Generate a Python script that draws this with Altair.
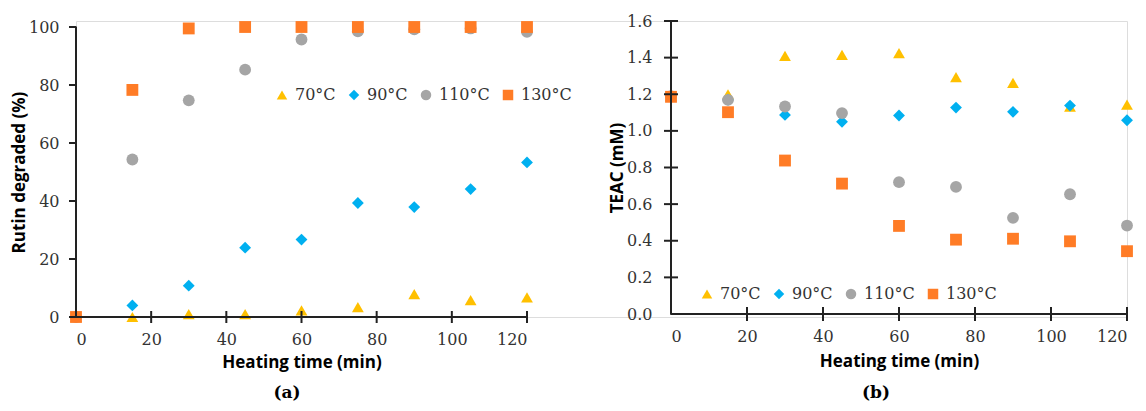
import altair as alt
import pandas as pd

times = [0, 15, 30, 45, 60, 75, 90, 105, 120]
series = ["70°C", "90°C", "110°C", "130°C"]
colors = ["#FFC000", "#00B0F0", "#A5A5A5", "#FF7C26"]
shapes = ["triangle-up", "diamond", "circle", "square"]

rutin_70 = [0, 0, 1.0, 1.0, 2.3, 3.4, 7.9, 5.8, 6.8]
rutin_90 = [0, 4.0, 10.8, 23.9, 26.7, 39.3, 37.9, 44.1, 53.3]
rutin_110 = [0, 54.3, 74.7, 85.3, 95.7, 98.5, 99.2, 99.5, 98.3]
rutin_130 = [0, 78.3, 99.5, 100, 100, 100, 100, 100, 100]

teac_70 = [1.19, 1.20, 1.41, 1.415, 1.425, 1.293, 1.262, 1.133, 1.144]
teac_90 = [1.19, 1.17, 1.087, 1.05, 1.084, 1.127, 1.104, 1.138, 1.058]
teac_110 = [1.19, 1.169, 1.133, 1.097, 0.72, 0.694, 0.525, 0.654, 0.483]
teac_130 = [1.186, 1.102, 0.838, 0.712, 0.481, 0.406, 0.411, 0.397, 0.343]

x_ticks = [20, 40, 60, 80, 100, 120]
x_values = [0, 20, 40, 60, 80, 100, 120]
rutin_ticks = [0, 20, 40, 60, 80, 100]
teac_ticks = [0.0, 0.2, 0.4, 0.6, 0.8, 1.0, 1.2, 1.4, 1.6]
captions = ["(a)", "(b)"]

LABEL_FONT = "DejaVu Serif"
TITLE_FONT = "Open Sans"
LINE = "#222222"
ONE = pd.DataFrame({"k": [0]})

# layout of the two panels inside one view (pixels)
W_A, H_A, TOP_A = 451, 296, 6
X0_B, W_B, H_B = 595, 456, 293
TOTAL_W = X0_B + W_B


def long_df(cols):
    rows = []
    for s, vals in zip(series, cols):
        for t, v in zip(times, vals):
            rows.append({"time": t, "val": v, "temp": s})
    return pd.DataFrame(rows)


df_a = long_df([rutin_70, rutin_90, rutin_110, rutin_130])
df_b = long_df([teac_70, teac_90, teac_110, teac_130])


def legend(x, y):
    return alt.Legend(
        orient="none", legendX=x, legendY=y, direction="horizontal", title=None,
        labelFont=LABEL_FONT, labelFontSize=16, labelColor="#333333",
        symbolSize=110, columnPadding=10, labelOffset=5,
    )


def ax(**kw):
    return alt.Axis(domain=False, ticks=False, grid=False, labelOverlap=False,
                    labelFont=LABEL_FONT, labelFontSize=16, labelColor="#333333",
                    titleFont=TITLE_FONT, titleFontSize=17, titleFontWeight="bold",
                    titleColor="black", **kw)


def tick(orient, size, **enc):
    return mark_base(orient, size).encode(**enc)


def mark_base(orient, size, data=ONE):
    return alt.Chart(data).mark_tick(color=LINE, orient=orient, thickness=2, size=size, opacity=1)


# ---------- panel (a) ----------
xs_a = alt.Scale(domain=[0, 120], nice=False, range=[0, W_A])
ys_a = alt.Scale(domain=[0, 100], nice=False, range=[H_A, TOP_A])
xax_a = ax(values=x_values, title="Heating time (min)", orient="bottom", labelPadding=14, titlePadding=7)
yax_a = ax(values=rutin_ticks, title="Rutin degraded (%)", orient="left", labelPadding=17, titlePadding=0)

pts_a = alt.Chart(df_a).mark_point(filled=True, size=140, opacity=1).encode(
    x=alt.X("time:Q", scale=xs_a, axis=xax_a),
    y=alt.Y("val:Q", scale=ys_a, axis=yax_a),
    color=alt.Color("temp:N", scale=alt.Scale(domain=series, range=colors), legend=legend(198, 66)),
    shape=alt.Shape("temp:N", scale=alt.Scale(domain=series, range=shapes), legend=legend(198, 66)),
)
xt_a = mark_base("vertical", 12, pd.DataFrame({"time": x_ticks})).encode(
    x=alt.X("time:Q", scale=xs_a, axis=xax_a), y=alt.value(H_A))
yt_a = mark_base("horizontal", 7, pd.DataFrame({"val": rutin_ticks})).encode(
    y=alt.Y("val:Q", scale=ys_a, axis=yax_a), x=alt.value(-3.5))
yline_a = tick("vertical", H_A - TOP_A + 1, x=alt.value(0), y=alt.value((H_A + TOP_A) / 2))
xline_a = tick("horizontal", W_A + 1, x=alt.value(W_A / 2), y=alt.value(H_A))
layer_a = alt.layer(pts_a, xt_a, yt_a, yline_a, xline_a)

# ---------- panel (b) ----------
xs_b = alt.Scale(domain=[0, 120], nice=False, range=[X0_B, TOTAL_W])
ys_b = alt.Scale(domain=[0, 1.6], nice=False, range=[H_B, 0])
xax_b = ax(values=x_values, title="Heating time (min)", orient="bottom", offset=H_B - H_A,
           labelPadding=14, titlePadding=9)
yax_b = ax(values=teac_ticks, format=".1f", title="TEAC (mM)", orient="left", offset=-X0_B,
           labelPadding=19, titlePadding=0)

pts_b = alt.Chart(df_b).mark_point(filled=True, size=140, opacity=1).encode(
    x=alt.X("time:Q", scale=xs_b, axis=xax_b),
    y=alt.Y("val:Q", scale=ys_b, axis=yax_b),
    color=alt.Color("temp:N", scale=alt.Scale(domain=series, range=colors), legend=legend(X0_B + 28, 265)),
    shape=alt.Shape("temp:N", scale=alt.Scale(domain=series, range=shapes), legend=legend(X0_B + 28, 265)),
)
xt_b = mark_base("vertical", 14, pd.DataFrame({"time": x_ticks})).encode(
    x=alt.X("time:Q", scale=xs_b, axis=xax_b), y=alt.value(H_B))
yt_b = mark_base("horizontal", 14, pd.DataFrame({"val": teac_ticks[1:]})).encode(
    y=alt.Y("val:Q", scale=ys_b, axis=yax_b), x=alt.value(X0_B))
yline_b = tick("vertical", H_B + 1, x=alt.value(X0_B), y=alt.value(H_B / 2))
xline_b = tick("horizontal", W_B + 1, x=alt.value(X0_B + W_B / 2), y=alt.value(H_B))
layer_b = alt.layer(pts_b, xt_b, yt_b, yline_b, xline_b)

# ---------- captions ----------
cap_a = alt.Chart(pd.DataFrame({"cap": [captions[0]]})).mark_text(
    font=LABEL_FONT, fontSize=17, fontWeight="bold", color="black", baseline="middle"
).encode(text="cap:N", x=alt.value(211), y=alt.value(372))
cap_b = alt.Chart(pd.DataFrame({"cap": [captions[1]]})).mark_text(
    font=LABEL_FONT, fontSize=17, fontWeight="bold", color="black", baseline="middle"
).encode(text="cap:N", x=alt.value(800), y=alt.value(372))

chart = alt.layer(layer_a, layer_b, cap_a, cap_b).resolve_scale(
    x="independent", y="independent", color="independent", shape="independent"
).resolve_axis(x="independent", y="independent").resolve_legend(
    color="independent", shape="independent"
).properties(
    width=TOTAL_W, height=H_A,
    padding={"left": 2, "top": 5, "right": 0, "bottom": 0},
)

chart.save("out.html", embed_options={"renderer": "svg", "actions": False})
